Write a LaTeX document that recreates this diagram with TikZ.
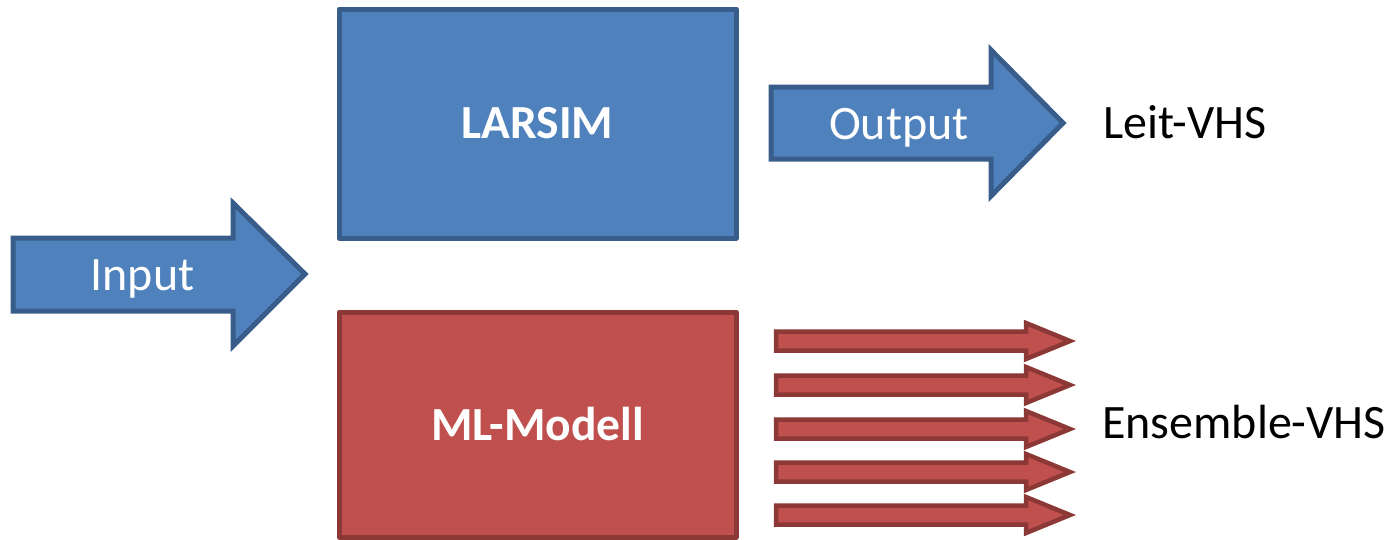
\documentclass[tikz,border=0pt]{standalone}
\usepackage{fontspec}
\setmainfont{Carlito}
\definecolor{bluefill}{HTML}{4F81BD}
\definecolor{blueline}{HTML}{385D8A}
\definecolor{redfill}{HTML}{C0504D}
\definecolor{redline}{HTML}{8C3836}
\tikzset{
  bluebox/.style={fill=bluefill, draw=blueline, line width=5pt, line join=round},
  redbox/.style={fill=redfill, draw=redline, line width=5pt, line join=round},
  redarrow/.style={fill=redfill, draw=redline, line width=4.5pt, line join=miter},
  bigtext/.style={font=\fontsize{48}{56}\selectfont, inner sep=0pt, anchor=base},
  whitetext/.style={bigtext, text=white},
  boldtext/.style={font=\fontsize{47.5}{56}\selectfont\bfseries, inner sep=0pt, text=white, anchor=base},
}
\begin{document}
\begin{tikzpicture}[x=1pt, y=-1pt]
\useasboundingbox (0,0) rectangle (1389,539);
% boxes
\draw[bluebox] (339,9) rectangle (736,238);
\draw[redbox] (339,312) rectangle (736,537);
\node[boldtext] (larsim) at (537.5,138) {LARSIM};
\node[boldtext] (ml) at (537.5,440) {ML-Modell};
% input arrow
\draw[bluebox, line join=miter] (13,238) -- (233,238) -- (233,203) -- (305,274) -- (233,346) -- (233,311) -- (13,311) -- cycle;
\node[whitetext] (input) at (142.5,290) {Input};
% output arrow
\draw[bluebox, line join=miter] (771,87) -- (991,87) -- (991,50) -- (1063,123) -- (991,196) -- (991,159) -- (771,159) -- cycle;
\node[whitetext] (output) at (899,139) {Output};
% labels
\node[bigtext, anchor=base west] (leit) at (1103,138) {Leit-VHS};
\node[bigtext, anchor=base west] (ens) at (1102,438) {Ensemble-VHS};
% red ensemble arrows
\foreach \yc in {341,385,429,472,515} {
  \draw[redarrow] (776,\yc-9.5) -- (1026,\yc-9.5) -- (1026,\yc-18) -- (1070,\yc) -- (1026,\yc+18) -- (1026,\yc+9.5) -- (776,\yc+9.5) -- cycle;
}
\end{tikzpicture}
\end{document}
